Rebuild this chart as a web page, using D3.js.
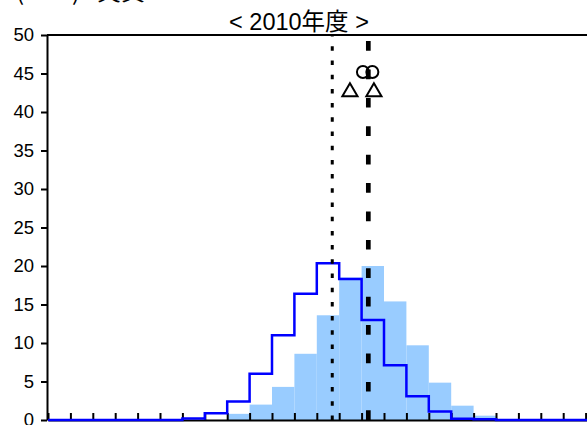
<!DOCTYPE html>
<html><head><meta charset="utf-8">
<script src="https://cdn.jsdelivr.net/npm/d3@7"></script>
<style>body{margin:0;background:#fff;overflow:hidden}svg{display:block}</style>
</head><body>
<svg id="c" width="587" height="425"></svg>
<script>
// ---- data ----
const headerParts = ["(", "2", ")", "実質"];
const titleText = "< 2010年度 >";
const binIndex = d3.range(25);
const actualShare = [0,0,0,0,0,0,0,0,0.8,2.0,4.3,8.6,13.6,18.5,20.0,15.4,9.7,4.85,1.86,0.56,0,0,0,0,0];
const forecastShare = [0,0,0,0,0,0,0.2,0.87,2.4,6.0,11.0,16.4,20.35,18.3,13.0,7.1,3.1,1.1,0.15,0.1,0,0,0,0,0];
const yTickValues = [0,5,10,15,20,25,30,35,40,45,50];
const xTickValues = d3.range(0, 26);
const dottedLineX = 12.69;
const dashedLineX = 14.30;
const circleX = [14.06, 14.48];
const circleY = [45.2, 45.2];
const triangleX = [13.48, 14.55];
const triangleY = [42.6, 42.6];

// ---- chart ----
const svg = d3.select("#c");
const font = "'Liberation Sans', Arial, 'Noto Sans CJK JP', sans-serif";
const x = d3.scaleLinear().domain([0, 25]).range([48, 608]);
const y = d3.scaleLinear().domain([0, 50]).range([420, 35]);

// header (clipped at top)
const hdr = svg.append("text").attr("y", 0)
  .attr("font-family", "'Noto Sans CJK JP', sans-serif").attr("font-size", 24);
const hdrX = [16, 40, 72, 97];
headerParts.forEach((t, i) => hdr.append("tspan").attr("x", hdrX[i]).text(t));

// title
svg.append("text").attr("x", 299).attr("y", 30).attr("text-anchor", "middle")
  .attr("font-family", font).attr("font-size", 23.5).text(titleText);

// bars
svg.append("g").selectAll("rect").data(binIndex).join("rect")
  .attr("x", i => x(i)).attr("width", i => x(i + 1) - x(i))
  .attr("y", i => y(actualShare[i])).attr("height", i => y(0) - y(actualShare[i]))
  .attr("fill", "#99CCFF");

// top border
svg.append("line").attr("x1", x(0) - 1).attr("x2", x(25)).attr("y1", y(50)).attr("y2", y(50))
  .attr("stroke", "#000").attr("stroke-width", 2);

// y axis
const ya = svg.append("g").attr("transform", `translate(${x(0) - 1},0)`)
  .call(d3.axisLeft(y).tickValues(yTickValues).tickSize(6).tickPadding(7).tickSizeOuter(0));
ya.select(".domain").attr("stroke", "#000").attr("stroke-width", 2);
ya.selectAll(".tick line").attr("stroke", "#000").attr("stroke-width", 2);
ya.selectAll(".tick text").attr("font-family", font).attr("font-size", 18.5).attr("fill", "#000");

// x axis
const xa = svg.append("g").attr("transform", `translate(0,${y(0)})`)
  .call(d3.axisBottom(x).tickValues(xTickValues).tickSize(-7).tickFormat("").tickSizeOuter(0));
xa.select(".domain").attr("stroke", "#000").attr("stroke-width", 2);
xa.selectAll(".tick line").attr("stroke", "#000").attr("stroke-width", 2);

// step line
const stepPts = forecastShare.map((v, i) => [i, v]).concat([[25, forecastShare[24]]]);
svg.append("path").datum(stepPts)
  .attr("d", d3.line().x(d => x(d[0])).y(d => y(d[1])).curve(d3.curveStepAfter))
  .attr("fill", "none").attr("stroke", "#0000FF").attr("stroke-width", 2.5);

// triangles
svg.append("g").selectAll("path").data(triangleX).join("path")
  .attr("d", d3.symbol(d3.symbolTriangle, 100))
  .attr("transform", (d, i) => `translate(${x(d)},${y(triangleY[i])})`)
  .attr("fill", "none").attr("stroke", "#000").attr("stroke-width", 2);

// vertical reference lines
svg.append("line").attr("x1", x(dottedLineX)).attr("x2", x(dottedLineX))
  .attr("y1", y(0)).attr("y2", y(50))
  .attr("stroke", "#000").attr("stroke-width", 3).attr("stroke-dasharray", "4.5,9.7");
svg.append("line").attr("x1", x(dashedLineX)).attr("x2", x(dashedLineX))
  .attr("y1", y(0)).attr("y2", y(50))
  .attr("stroke", "#000").attr("stroke-width", 4.7).attr("stroke-dasharray", "9.7,18.7");

// circles
svg.append("g").selectAll("circle").data(circleX).join("circle")
  .attr("cx", d => x(d)).attr("cy", (d, i) => y(circleY[i])).attr("r", 6)
  .attr("fill", "#fff").attr("fill-opacity", 0).attr("stroke", "#000").attr("stroke-width", 2);
</script>
</body></html>
